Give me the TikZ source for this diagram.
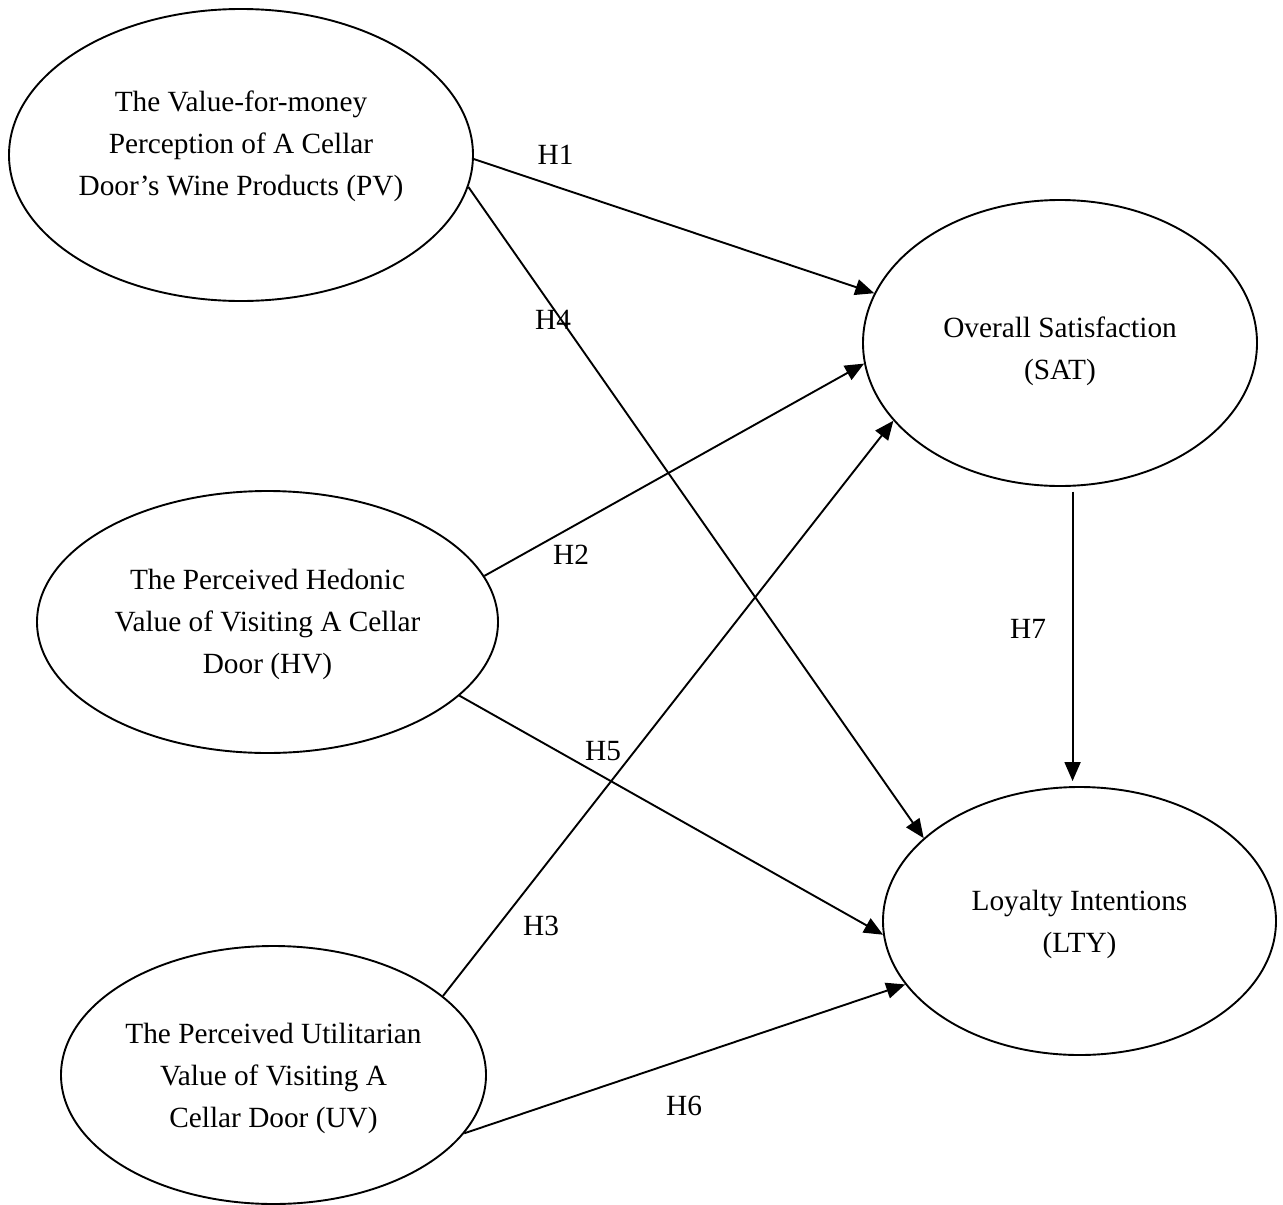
\documentclass[tikz,border=0pt]{standalone}
\usepackage{fontspec}
\setmainfont{Liberation Serif}
\usetikzlibrary{shapes.geometric,arrows.meta}
\begin{document}
\begin{tikzpicture}[x=1pt,y=-1pt,
  construct/.style={ellipse,draw,line width=1.9pt,inner sep=0pt},
  ctext/.style={align=center,inner sep=0pt,font=\fontsize{29.3}{42}\selectfont},
  hlabel/.style={anchor=base,inner sep=0pt,font=\fontsize{29.3}{42}\selectfont},
  hyp/.style={line width=1.9pt,-{Triangle[length=19pt,width=16pt]}}]
\fill[white] (0,0) rectangle (1283,1205);
\useasboundingbox (0,0) rectangle (1283,1205);
% constructs
\node[construct,minimum width=464pt,minimum height=292pt,
  label={[ctext,yshift=9pt]center:{The Value-for-money\\Perception of A Cellar\\Door’s Wine Products (PV)}}] (PV) at (241,155) {};
\node[construct,minimum width=461pt,minimum height=262pt,
  label={[ctext,yshift=-2pt]center:{The Perceived Hedonic\\Value of Visiting A Cellar\\Door (HV)}}] (HV) at (267.5,622) {};
\node[construct,minimum width=425pt,minimum height=258pt,
  label={[ctext,yshift=-3pt]center:{The Perceived Utilitarian\\Value of Visiting A\\Cellar Door (UV)}}] (UV) at (273.5,1075) {};
\node[construct,minimum width=394pt,minimum height=286pt,
  label={[ctext,yshift=-8pt]center:{Overall Satisfaction\\(SAT)}}] (SAT) at (1060,343) {};
\node[construct,minimum width=393pt,minimum height=268pt,
  label={[ctext,yshift=-3pt]center:{Loyalty Intentions\\(LTY)}}] (LTY) at (1079.5,921) {};
% hypotheses
\draw[hyp] (PV.359) -- (SAT.165);
\draw[hyp] (PV.352.4) -- (LTY.152.5);
\draw[hyp] (HV.12) -- (SAT.186.5);
\draw[hyp] (UV.25) -- (SAT.205);
\draw[hyp] (HV.339) -- (LTY.184);
\draw[hyp] (UV.343.6) -- (LTY.200.7);
\draw[hyp,shorten <=5pt,shorten >=5pt] (SAT.275) -- (SAT.275 |- LTY.north);
% labels
\node[hlabel] (h1) at (555.5,164) {H1};
\node[hlabel] (h4) at (553,329) {H4};
\node[hlabel] (h2) at (571,564.5) {H2};
\node[hlabel] (h3) at (541,935.5) {H3};
\node[hlabel] (h5) at (603,760.5) {H5};
\node[hlabel] (h6) at (684,1115.5) {H6};
\node[hlabel] (h7) at (1028,638) {H7};
\end{tikzpicture}
\end{document}
